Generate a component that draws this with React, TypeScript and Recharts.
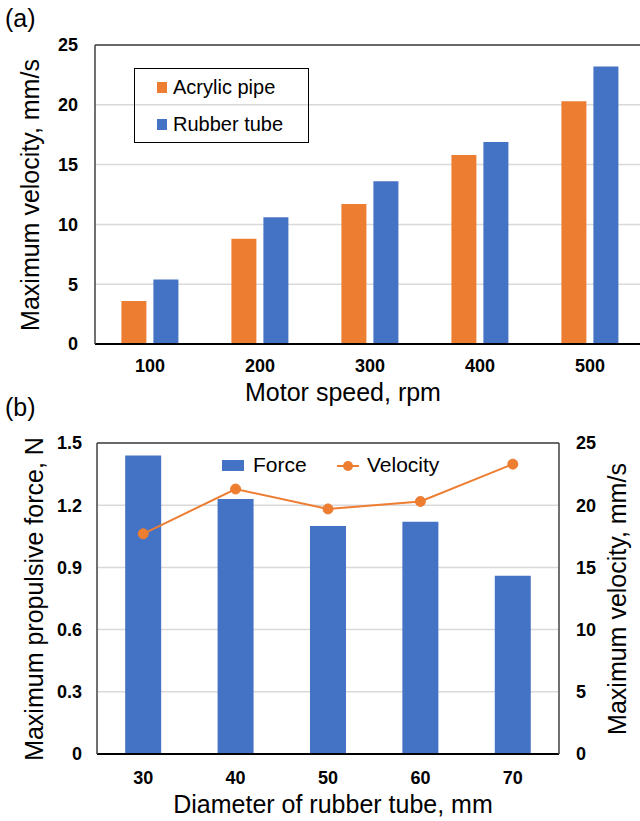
import React from "react";
import {
  BarChart,
  Bar,
  ComposedChart,
  Line,
  XAxis,
  YAxis,
  CartesianGrid,
  ReferenceLine,
} from "recharts";

const speeds = ["100", "200", "300", "400", "500"];
const acrylicPipe = [3.6, 8.8, 11.7, 15.8, 20.3];
const rubberTube = [5.4, 10.6, 13.6, 16.9, 23.2];
const velocityTicks = [0, 5, 10, 15, 20, 25];

const diameters = ["30", "40", "50", "60", "70"];
const force = [1.44, 1.23, 1.1, 1.12, 0.86];
const velocity = [17.7, 21.3, 19.7, 20.3, 23.3];
const forceTicks = [0, 0.3, 0.6, 0.9, 1.2, 1.5];

const FONT = "'Liberation Sans', Arial, sans-serif";
const ORANGE = "#ED7D31";
const BLUE = "#4472C4";
const GRID = "#d9d9d9";
const FRAME = "#404040";

const speedData = speeds.map((s, i) => ({
  speed: s,
  acrylic: acrylicPipe[i],
  rubber: rubberTube[i],
}));

const diameterData = diameters.map((d, i) => ({
  diameter: d,
  force: force[i],
  velocity: velocity[i],
}));

const tickStyle = { fill: "#000", fontSize: 18, fontWeight: 700, fontFamily: FONT };

function AxisTitle({ x, y, text, rotate }: { x: number; y: number; text: string; rotate?: boolean }) {
  return (
    <text
      x={x}
      y={y}
      dy="0.35em"
      textAnchor="middle"
      fontSize={25}
      fill="#000"
      fontFamily={FONT}
      transform={rotate ? `rotate(-90 ${x} ${y})` : undefined}
    >
      {text}
    </text>
  );
}

const legendText = (size: number) => ({
  position: "absolute" as const,
  fontSize: size,
  lineHeight: "24px",
  color: "#000",
  whiteSpace: "nowrap" as const,
});

export default function App() {
  return (
    <div
      style={{
        position: "absolute",
        left: 0,
        top: 0,
        width: 640,
        height: 821,
        overflow: "hidden",
        background: "#fff",
        fontFamily: FONT,
      }}
    >
      {/* (a) velocity vs motor speed */}
      <div style={{ position: "absolute", left: 0, top: 0 }}>
        <BarChart
          width={660}
          height={412}
          data={speedData}
          margin={{ top: 45, right: 15, bottom: 0, left: 0 }}
          barCategoryGap="24%"
          barGap={7}
        >
          <CartesianGrid vertical={false} stroke={GRID} strokeWidth={1.5} />
          <XAxis
            dataKey="speed"
            axisLine={{ stroke: "#000", strokeWidth: 2 }}
            tickLine={false}
            tickSize={0}
            tickMargin={15}
            height={68}
            tick={tickStyle}
            label={() => <AxisTitle x={343} y={392} text="Motor speed, rpm" />}
          />
          <YAxis
            width={95}
            domain={[0, 25]}
            ticks={velocityTicks}
            axisLine={{ stroke: FRAME, strokeWidth: 1.5 }}
            tickLine={false}
            tickSize={0}
            tickMargin={17}
            tick={tickStyle}
            label={() => (
              <AxisTitle x={30} y={195} rotate text="Maximum velocity, mm/s" />
            )}
          />
          <ReferenceLine y={25} stroke={FRAME} strokeWidth={1.5} />
          <Bar dataKey="acrylic" fill={ORANGE} isAnimationActive={false} />
          <Bar dataKey="rubber" fill={BLUE} isAnimationActive={false} />
        </BarChart>
      </div>

      {/* legend (a) */}
      <div
        style={{
          position: "absolute",
          left: 134,
          top: 68,
          width: 175,
          height: 75,
          border: "1.5px solid #000",
          boxSizing: "border-box",
        }}
      />
      <div style={{ position: "absolute", left: 157, top: 82, width: 10, height: 11, background: ORANGE }} />
      <div style={{ ...legendText(20), left: 173, top: 75 }}>Acrylic pipe</div>
      <div style={{ position: "absolute", left: 157, top: 119, width: 10, height: 11, background: BLUE }} />
      <div style={{ ...legendText(20), left: 173, top: 112 }}>Rubber tube</div>

      {/* (b) force and velocity vs tube diameter */}
      <div style={{ position: "absolute", left: 0, top: 400 }}>
        <ComposedChart
          width={640}
          height={421}
          data={diameterData}
          margin={{ top: 43, right: 0, bottom: 0, left: 0 }}
          barCategoryGap="30.5%"
        >
          <CartesianGrid yAxisId="left" vertical={false} stroke={GRID} strokeWidth={1.5} />
          <XAxis
            dataKey="diameter"
            axisLine={{ stroke: "#000", strokeWidth: 2 }}
            tickLine={false}
            tickSize={0}
            tickMargin={17}
            height={67}
            tick={tickStyle}
            label={() => (
              <AxisTitle x={333} y={404} text="Diameter of rubber tube, mm" />
            )}
          />
          <YAxis
            yAxisId="left"
            width={97}
            domain={[0, 1.5]}
            ticks={forceTicks}
            axisLine={{ stroke: FRAME, strokeWidth: 1.5 }}
            tickLine={false}
            tickSize={0}
            tickMargin={15}
            tick={tickStyle}
            label={() => (
              <AxisTitle x={34} y={199} rotate text="Maximum propulsive force, N" />
            )}
          />
          <YAxis
            yAxisId="right"
            orientation="right"
            width={81}
            domain={[0, 25]}
            ticks={velocityTicks}
            axisLine={{ stroke: FRAME, strokeWidth: 1.5 }}
            tickLine={false}
            tickSize={0}
            tickMargin={17}
            tick={tickStyle}
            label={() => (
              <AxisTitle x={617} y={199} rotate text="Maximum velocity, mm/s" />
            )}
          />
          <ReferenceLine yAxisId="left" y={1.5} stroke={FRAME} strokeWidth={1.5} />
          <Bar yAxisId="left" dataKey="force" fill={BLUE} isAnimationActive={false} />
          <Line
            yAxisId="right"
            type="linear"
            dataKey="velocity"
            stroke={ORANGE}
            strokeWidth={2}
            dot={{ r: 5, fill: ORANGE, stroke: ORANGE, strokeWidth: 1 }}
            isAnimationActive={false}
          />
        </ComposedChart>
      </div>

      {/* legend (b) */}
      <div style={{ position: "absolute", left: 222, top: 460, width: 22, height: 11, background: BLUE }} />
      <div style={{ ...legendText(21), left: 253, top: 453 }}>Force</div>
      <svg style={{ position: "absolute", left: 335, top: 458 }} width={26} height={16}>
        <line x1={2} y1={8} x2={24} y2={8} stroke={ORANGE} strokeWidth={2} />
        <circle cx={13} cy={8} r={5} fill={ORANGE} />
      </svg>
      <div style={{ ...legendText(21), left: 367, top: 453 }}>Velocity</div>

      {/* panel labels */}
      <div style={{ position: "absolute", left: 5, top: 3, fontSize: 25, lineHeight: "30px" }}>(a)</div>
      <div style={{ position: "absolute", left: 5, top: 392, fontSize: 25, lineHeight: "30px" }}>(b)</div>
    </div>
  );
}
